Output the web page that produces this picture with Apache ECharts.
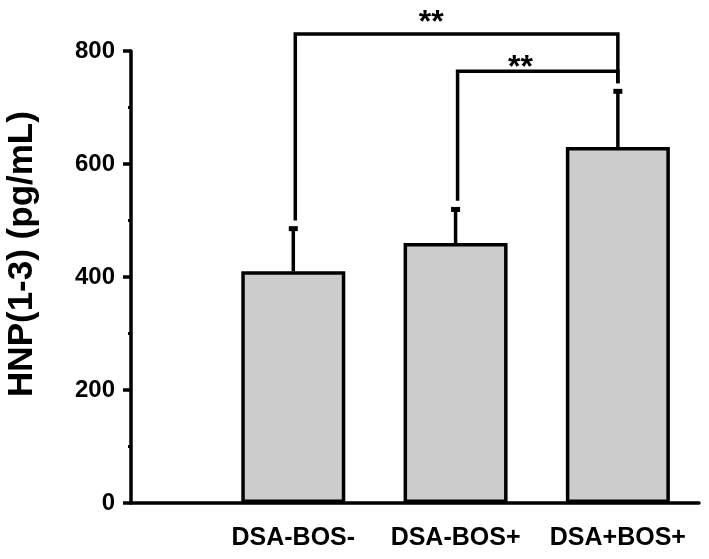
<!DOCTYPE html>
<html>
<head>
<meta charset="utf-8">
<script src="https://cdn.jsdelivr.net/npm/echarts@6/dist/echarts.min.js"></script>
<style>
  html, body { margin: 0; padding: 0; background: #fff; }
  #chart { width: 709px; height: 559px; }
</style>
</head>
<body>
<div id="chart"></div>
<script>
// data
const categories = ['DSA-BOS-', 'DSA-BOS+', 'DSA+BOS+'];
const means = [410, 460, 630];
const errors = [80, 64, 103];
// significance brackets: [fromIndex, toIndex, height, leftLegEnd, rightLegEnd, labelX, labelY, label]
const brackets = [
  [0, 2, 830, 500, 743, 1.85, 862, '**'],
  [1, 2, 764, 535, 743, 2.40, 782, '**']
];
const yTicks = [0, 200, 400, 600, 800];
const yTitle = 'HNP(1-3) (pg/mL)';

const font = 'Liberation Sans, Arial, sans-serif';
const chart = echarts.init(document.getElementById('chart'));

const barData = means.map((v, i) => [i + 1, v]);
const errData = means.map((v, i) => [i + 1, v, v + errors[i]]);
const bracketData = brackets.map(b => [b[0] + 1, b[1] + 1, b[2], b[3], b[4], b[5], b[6], b[7]]);

const option = {
  animation: false,
  grid: { left: 131, right: 10, top: 51, bottom: 56 },
  graphic: [
    {
      type: 'text',
      x: 22,
      y: 254,
      rotation: Math.PI / 2,
      style: {
        text: yTitle,
        fill: '#000',
        font: 'bold 35px ' + font,
        align: 'center',
        verticalAlign: 'middle'
      }
    }
  ],
  xAxis: {
    type: 'value',
    min: 0,
    max: 3.5,
    interval: 1,
    splitLine: { show: false },
    axisLine: { show: true, lineStyle: { color: '#000', width: 3.5 } },
    axisTick: { show: false },
    axisLabel: {
      showMaxLabel: false,
      margin: 23,
      color: '#000',
      fontFamily: font,
      fontWeight: 'bold',
      fontSize: 25,
      formatter: v => categories[v - 1] || ''
    }
  },
  yAxis: {
    type: 'value',
    min: yTicks[0],
    max: yTicks[yTicks.length - 1],
    interval: 200,
    splitLine: { show: false },
    axisLine: { show: true, lineStyle: { color: '#000', width: 3.5 } },
    axisTick: { show: true, length: 8, lineStyle: { color: '#000', width: 3.5 } },
    minorTick: { show: true, splitNumber: 2, length: 3, lineStyle: { color: '#000', width: 3 } },
    axisLabel: { margin: 16, color: '#000', fontFamily: font, fontWeight: 'bold', fontSize: 24 }
  },
  series: [
    {
      type: 'custom',
      z: 1,
      data: errData,
      renderItem: (params, api) => {
        const top = api.coord([api.value(0), api.value(2)]);
        const base = api.coord([api.value(0), api.value(1)]);
        return {
          type: 'group',
          children: [
            { type: 'line', shape: { x1: base[0], y1: base[1], x2: top[0], y2: top[1] + 2 },
              style: { stroke: '#000', lineWidth: 3.5 } },
            { type: 'rect', shape: { x: top[0] - 4.5, y: top[1], width: 9, height: 5 },
              style: { fill: '#000' } }
          ]
        };
      }
    },
    {
      type: 'bar',
      z: 2,
      data: barData,
      barWidth: 104,
      itemStyle: { color: '#cccccc', borderColor: '#000', borderWidth: 3.5 }
    },
    {
      type: 'custom',
      z: 3,
      data: bracketData,
      renderItem: (params, api) => {
        const l = api.coord([api.value(0), api.value(2)]);
        const r = api.coord([api.value(1), api.value(2)]);
        const lEnd = api.coord([api.value(0), api.value(3)]);
        const rEnd = api.coord([api.value(1), api.value(4)]);
        const lab = api.coord([api.value(5), api.value(6)]);
        const st = { stroke: '#000', lineWidth: 3.5, fill: null };
        return {
          type: 'group',
          children: [
            { type: 'polyline', shape: { points: [[lEnd[0] + 2, lEnd[1]], [l[0] + 2, l[1]], [r[0], r[1]], [rEnd[0], rEnd[1]]] },
              style: st },
            { type: 'text', x: lab[0], y: lab[1] + 7,
              style: { text: bracketData[params.dataIndex][7], fill: '#000', font: 'bold 32px ' + font,
                       align: 'center', verticalAlign: 'middle' } }
          ]
        };
      }
    }
  ]
};

chart.setOption(option);
</script>
</body>
</html>
